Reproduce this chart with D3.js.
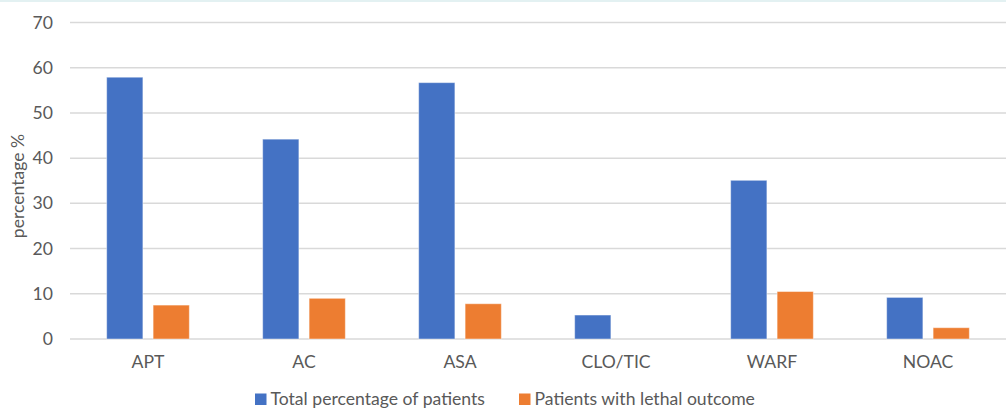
<!DOCTYPE html>
<html>
<head>
<meta charset="utf-8">
<script src="https://cdn.jsdelivr.net/npm/d3@7"></script>
<style>
  html, body { margin: 0; padding: 0; background: #fff; }
  svg { display: block; }
</style>
</head>
<body>
<div id="chart"></div>
<script>
// Anticoagulant / antiplatelet therapy groups
const categories = ["APT", "AC", "ASA", "CLO/TIC", "WARF", "NOAC"];
const seriesNames = ["Total percentage of patients", "Patients with lethal outcome"];
const totalPct = [57.9, 44.2, 56.7, 5.3, 35.1, 9.2];
const lethalPct = [7.5, 9.0, 7.8, 0, 10.5, 2.5];
const yTicks = [0, 10, 20, 30, 40, 50, 60, 70];
const colors = ["#4472c4", "#ed7d31"];

const W = 1006, H = 409;
const margin = { top: 22.5, right: 0, bottom: 70, left: 70 };
const font = "Lato, 'Open Sans', sans-serif";
const fontSize = 17.6;

const svg = d3.select("#chart").append("svg")
  .attr("width", W).attr("height", H);

// thin tinted band along the top edge
svg.append("rect").attr("x", 0).attr("y", 0).attr("width", W).attr("height", 2)
  .attr("fill", "#e3f1f2");

const x0 = d3.scaleBand().domain(categories)
  .range([margin.left, W - margin.right]).paddingInner(0.47).paddingOuter(0.235);
const x1 = d3.scaleBand().domain([0, 1]).range([0, x0.bandwidth()]).paddingInner(0.22);
const y = d3.scaleLinear().domain([0, 70]).range([339, margin.top]);

// gridlines
svg.append("g")
  .selectAll("line").data(yTicks).join("line")
  .attr("x1", margin.left).attr("x2", W - margin.right)
  .attr("y1", d => y(d)).attr("y2", d => y(d))
  .attr("stroke", "#d9d9d9").attr("stroke-width", 1.5);

// y axis labels
const yAxis = d3.axisLeft(y).tickValues(yTicks).tickSize(0).tickPadding(17);
const gy = svg.append("g").attr("transform", `translate(${margin.left},0)`).call(yAxis);
gy.select(".domain").remove();
gy.selectAll("text").attr("font-family", font).attr("font-size", fontSize).attr("fill", "#595959");

// x axis labels
const xAxis = d3.axisBottom(x0).tickSize(0).tickPadding(17);
const gx = svg.append("g").attr("transform", `translate(0,339)`).call(xAxis);
gx.select(".domain").remove();
gx.selectAll("text").attr("font-family", font).attr("font-size", fontSize).attr("fill", "#595959");

// bars
const rows = categories.map((c, i) => ({ c, v: [totalPct[i], lethalPct[i]] }));
const groups = svg.append("g").selectAll("g").data(rows).join("g")
  .attr("transform", d => `translate(${x0(d.c)},0)`);
groups.selectAll("rect").data(d => d.v.map((v, k) => ({ v, k })).filter(e => e.v > 0))
  .join("rect")
  .attr("x", d => x1(d.k))
  .attr("width", x1.bandwidth())
  .attr("y", d => y(d.v))
  .attr("height", d => y(0) - y(d.v))
  .attr("fill", d => colors[d.k])
  .attr("stroke", "#ffffff").attr("stroke-opacity", 0.45).attr("stroke-width", 1);

// y axis title
svg.append("text")
  .attr("transform", `translate(24,186) rotate(-90)`)
  .attr("text-anchor", "middle")
  .attr("font-family", font).attr("font-size", fontSize).attr("fill", "#595959")
  .text("percentage %");

// legend
const legendX = [255, 519];
const lg = svg.append("g").selectAll("g").data(seriesNames).join("g")
  .attr("transform", (d, i) => `translate(${legendX[i]},405)`);
lg.append("rect").attr("x", 0).attr("y", -11.5).attr("width", 11.5).attr("height", 11.5)
  .attr("fill", (d, i) => colors[i]);
lg.append("text").attr("x", 15.5).attr("y", 0)
  .attr("font-family", font).attr("font-size", fontSize).attr("fill", "#595959")
  .text(d => d);
</script>
</body>
</html>
